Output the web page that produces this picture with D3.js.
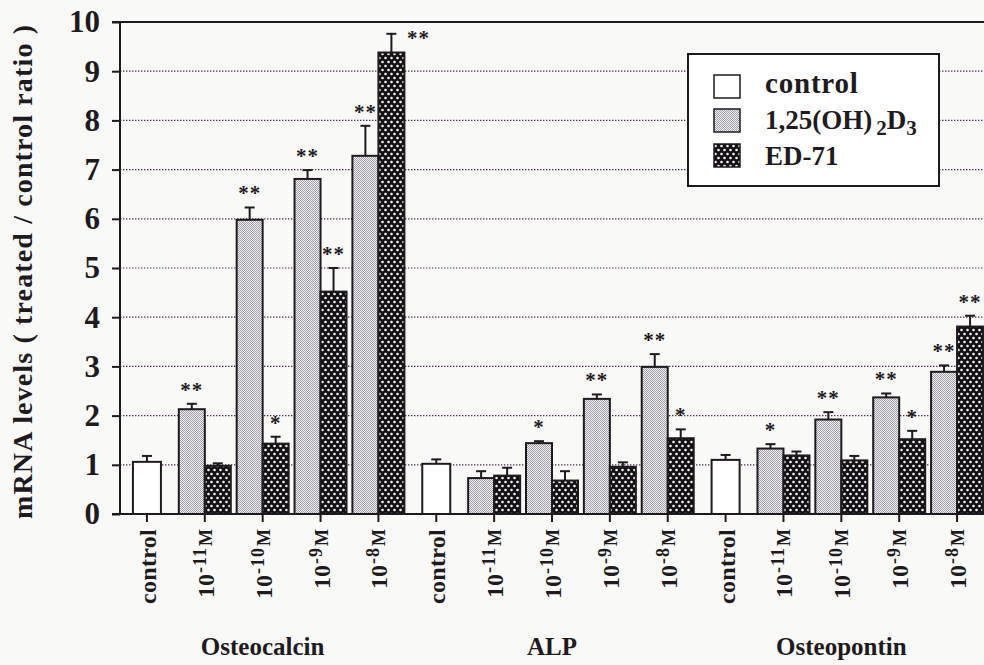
<!DOCTYPE html>
<html>
<head>
<meta charset="utf-8">
<script src="https://cdn.jsdelivr.net/npm/d3@7/dist/d3.min.js"></script>
<style>
  html, body { margin: 0; padding: 0; background: #f9f9f8; }
  svg { display: block; }
  text { font-family: "Liberation Serif", "Times New Roman", serif; fill: #1e1a1e; }
</style>
</head>
<body>
<svg id="chart" width="984" height="665"></svg>
<script>
// ---------------- data ----------------
const groups = ["Osteocalcin", "ALP", "Osteopontin"];
const doses = ["control", "-11", "-10", "-9", "-8"];
// one entry per x category (group x dose); null where a series has no bar
const controlMean     = [1.06, null, null, null, null, 1.02, null, null, null, null, 1.10, null, null, null, null];
const controlErr      = [0.12, null, null, null, null, 0.09, null, null, null, null, 0.10, null, null, null, null];
const calcitriolMean  = [null, 2.13, 5.98, 6.81, 7.28, null, 0.73, 1.44, 2.34, 2.99, null, 1.33, 1.92, 2.37, 2.89];
const calcitriolErr   = [null, 0.11, 0.25, 0.18, 0.61, null, 0.14, 0.04, 0.09, 0.26, null, 0.09, 0.15, 0.08, 0.13];
const ed71Mean        = [null, 0.98, 1.43, 4.52, 9.38, null, 0.78, 0.68, 0.96, 1.54, null, 1.19, 1.09, 1.52, 3.81];
const ed71Err         = [null, 0.05, 0.14, 0.48, 0.38, null, 0.16, 0.19, 0.09, 0.18, null, 0.08, 0.09, 0.17, 0.22];
const calcitriolSig   = ["", "**", "**", "**", "**", "", "", "*", "**", "**", "", "*", "**", "**", "**"];
const ed71Sig         = ["", "", "*", "**", "**", "", "", "", "", "*", "", "", "", "*", "**"];
const yTicks = [0, 1, 2, 3, 4, 5, 6, 7, 8, 9, 10];
const seriesNames = ["control", "calcitriol", "ed71"];

// ---------------- layout ----------------
const svg = d3.select("#chart");
const X0 = 118, X1 = 986, Y0 = 514, Y1 = 22;
const cats = d3.range(groups.length * doses.length);
const x = d3.scaleBand().domain(cats).range([X0, X1]).padding(0);
const y = d3.scaleLinear().domain([0, 10]).range([Y0, Y1]);
const barW = 26;
const inner = d3.scaleBand().domain(["calcitriol", "ed71"]).range([-barW, barW]);

// patterns
const defs = svg.append("defs");
const pc = defs.append("pattern").attr("id", "pCalc").attr("patternUnits", "userSpaceOnUse")
  .attr("width", 2).attr("height", 2);
pc.append("rect").attr("width", 2).attr("height", 2).attr("fill", "#f1f0f2");
pc.append("rect").attr("x", 0).attr("y", 0).attr("width", 1).attr("height", 1).attr("fill", "#a29ea8");
pc.append("rect").attr("x", 1).attr("y", 1).attr("width", 1).attr("height", 1).attr("fill", "#a29ea8");
const pe = defs.append("pattern").attr("id", "pEd").attr("patternUnits", "userSpaceOnUse")
  .attr("width", 6).attr("height", 8);
pe.append("rect").attr("width", 6).attr("height", 8).attr("fill", "#141114");
pe.append("circle").attr("cx", 1.5).attr("cy", 2).attr("r", 1.3).attr("fill", "#f4f4f4");
pe.append("circle").attr("cx", 4.5).attr("cy", 6).attr("r", 1.3).attr("fill", "#f4f4f4");
const fills = { control: "#ffffff", calcitriol: "url(#pCalc)", ed71: "url(#pEd)" };

// grid lines
svg.append("g").selectAll("line").data(yTicks.filter(t => t > 0 && t < 10)).join("line")
  .attr("x1", X0 + 2).attr("x2", 984).attr("y1", d => y(d)).attr("y2", d => y(d))
  .attr("stroke", "#4a2c4c").attr("stroke-width", 1.2).attr("stroke-dasharray", "1.4,1.6");
svg.append("line").attr("x1", 112).attr("x2", 984).attr("y1", y(10)).attr("y2", y(10))
  .attr("stroke", "#1e1a1e").attr("stroke-width", 2);

// bars
function barRecords() {
  const recs = [];
  cats.forEach(i => {
    const cx = x(i) + x.bandwidth() / 2;
    if (controlMean[i] != null) recs.push({ s: "control", x: cx - 14, w: 28, v: controlMean[i], e: controlErr[i], sig: "" , i });
    if (calcitriolMean[i] != null) recs.push({ s: "calcitriol", x: cx + inner("calcitriol"), w: barW, v: calcitriolMean[i], e: calcitriolErr[i], sig: calcitriolSig[i], i });
    if (ed71Mean[i] != null) recs.push({ s: "ed71", x: cx + inner("ed71"), w: barW, v: ed71Mean[i], e: ed71Err[i], sig: ed71Sig[i], i });
  });
  return recs;
}
const recs = barRecords();
const gb = svg.append("g");
gb.selectAll("rect").data(recs).join("rect")
  .attr("x", d => d.x).attr("width", d => d.w)
  .attr("y", d => y(d.v)).attr("height", d => y(0) - y(d.v))
  .attr("fill", d => fills[d.s]).attr("stroke", "#1e1a1e").attr("stroke-width", 2);

// error bars
const ge = svg.append("g").attr("stroke", "#1e1a1e").attr("stroke-width", 2);
ge.selectAll("line.v").data(recs).join("line").attr("class", "v")
  .attr("x1", d => d.x + d.w / 2).attr("x2", d => d.x + d.w / 2)
  .attr("y1", d => y(d.v)).attr("y2", d => y(d.v + d.e));
ge.selectAll("line.c").data(recs).join("line").attr("class", "c")
  .attr("x1", d => d.x + d.w / 2 - 5).attr("x2", d => d.x + d.w / 2 + 5)
  .attr("y1", d => y(d.v + d.e)).attr("y2", d => y(d.v + d.e));

// significance marks
svg.append("g").selectAll("text").data(recs.filter(d => d.sig)).join("text")
  .attr("x", d => (y(d.v + d.e) < 45 ? d.x + d.w + 14 : d.x + d.w / 2))
  .attr("y", d => (y(d.v + d.e) < 45 ? y(d.v + d.e) + 11 : y(d.v + d.e) - 7))
  .attr("text-anchor", "middle").attr("font-size", 21).attr("font-weight", "bold").attr("letter-spacing", 1)
  .text(d => d.sig);

// axes
svg.append("line").attr("x1", 120).attr("x2", 120).attr("y1", Y0).attr("y2", Y1)
  .attr("stroke", "#1e1a1e").attr("stroke-width", 2);
svg.append("line").attr("x1", 112).attr("x2", 984).attr("y1", Y0).attr("y2", Y0)
  .attr("stroke", "#1e1a1e").attr("stroke-width", 2);
const yAxis = svg.append("g").attr("transform", "translate(120,0)")
  .call(d3.axisLeft(y).tickValues(yTicks).tickSize(8).tickPadding(12).tickFormat(d3.format("d")));
yAxis.select(".domain").remove();
yAxis.selectAll("line").attr("stroke", "#1e1a1e").attr("stroke-width", 2);
yAxis.selectAll("text").attr("font-size", 31).attr("font-weight", "bold")
  .attr("font-family", "Liberation Serif").attr("fill", "#1e1a1e");

const xAxis = svg.append("g").attr("transform", `translate(0,${Y0})`)
  .call(d3.axisBottom(x).tickSize(8).tickFormat(""));
xAxis.select(".domain").remove();
xAxis.selectAll("line").attr("stroke", "#1e1a1e").attr("stroke-width", 2);

// rotated x labels
const gl = svg.append("g");
cats.forEach(i => {
  const dose = doses[i % doses.length];
  const cx = x(i) + x.bandwidth() / 2;
  const t = gl.append("text")
    .attr("transform", `translate(${cx + 1},529) rotate(-90)`)
    .attr("text-anchor", "end").attr("dominant-baseline", "central")
    .attr("font-weight", "bold").attr("font-size", 24);
  if (dose === "control") {
    t.attr("letter-spacing", 0.3).text("control");
  } else {
    t.append("tspan").text("10");
    t.append("tspan").attr("font-size", 18).attr("dy", -6).attr("dx", 1).attr("letter-spacing", 1).text(dose);
    t.append("tspan").attr("font-size", 18).attr("dy", 6).attr("dx", 1).text("M");
  }
});

// group labels
svg.append("g").selectAll("text").data(groups).join("text")
  .attr("x", (d, gi) => x(gi * doses.length + 2) + x.bandwidth() / 2)
  .attr("y", 655).attr("text-anchor", "middle")
  .attr("font-size", 25).attr("font-weight", "bold").text(d => d);

// y title
svg.append("text")
  .attr("transform", "translate(22,272) rotate(-90)")
  .attr("text-anchor", "middle").attr("dominant-baseline", "central")
  .attr("font-size", 28).attr("font-weight", "bold")
  .attr("textLength", 494).attr("lengthAdjust", "spacing")
  .text("mRNA levels ( treated / control ratio )");

// legend
const lg = svg.append("g");
lg.append("rect").attr("x", 688).attr("y", 54).attr("width", 251).attr("height", 132)
  .attr("fill", "#ffffff").attr("stroke", "#1e1a1e").attr("stroke-width", 2);
const legRowsY = [75, 109, 144];
seriesNames.forEach((s, k) => {
  lg.append("rect").attr("x", 714).attr("y", legRowsY[k]).attr("width", 26).attr("height", 23)
    .attr("fill", fills[s]).attr("stroke", "#1e1a1e").attr("stroke-width", 1.5);
});
lg.append("text").attr("x", 765).attr("y", 93).attr("font-size", 29).attr("font-weight", "bold")
  .attr("letter-spacing", 0.8).text("control");
const t2 = lg.append("text").attr("x", 765).attr("y", 129).attr("font-size", 27).attr("font-weight", "bold");
t2.append("tspan").text("1,25(OH)");
t2.append("tspan").attr("dx", 4).attr("dy", 6).attr("font-size", 21).text("2");
t2.append("tspan").attr("dy", -6).text("D");
t2.append("tspan").attr("dy", 6).attr("font-size", 21).text("3");
lg.append("text").attr("x", 765).attr("y", 165).attr("font-size", 27).attr("font-weight", "bold").text("ED-71");
</script>
</body>
</html>
